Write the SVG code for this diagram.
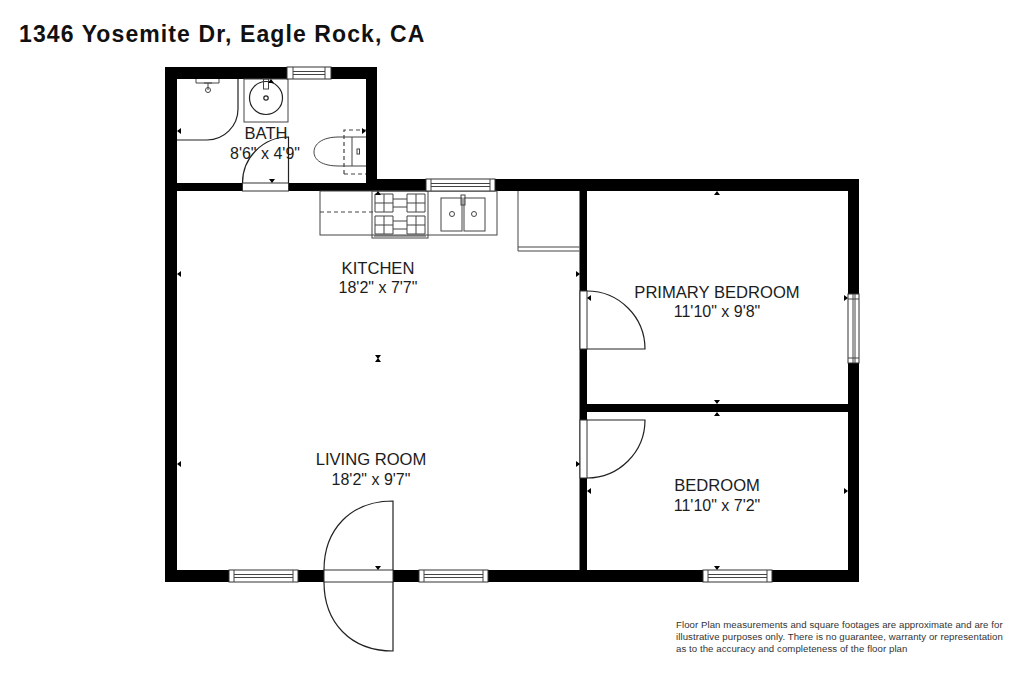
<svg xmlns="http://www.w3.org/2000/svg" width="1024" height="683" viewBox="0 0 1024 683">
<defs>
<style>
text{font-family:"Liberation Sans",Arial,sans-serif;fill:#1c1c1c;text-anchor:middle}
.lab{font-size:16.6px}
.dim{font-size:16px}
.note{font-size:9.6px;text-anchor:start;fill:#333;letter-spacing:.08px}
.l{fill:none;stroke:#222;stroke-width:1.2}
.g{fill:none;stroke:#444;stroke-width:1}
.d{fill:none;stroke:#444;stroke-width:1.2;stroke-dasharray:4 3}
.o{fill:#fff;stroke:#333;stroke-width:1}
.w{fill:#000}
</style>
<path id="t" d="M-3 0H3L0 4Z" fill="#000"/>
<g id="win"><rect x="0" y="0" width="69" height="12" class="o"/><path class="g" d="M5 0V12M64 0V12M5 4.5H64M5 7.5H64"/></g>
</defs>
<rect width="1024" height="683" fill="#fff"/>
<text id="title" x="19" y="42" style="text-anchor:start;font-weight:bold;font-size:23px;letter-spacing:1.1px;fill:#111">1346 Yosemite Dr, Eagle Rock, CA</text>
<g id="walls">
<path class="w" fill-rule="evenodd" d="M165 67H377V179H859V582H165ZM177 79V183H366V79ZM177 191V570H579.500V191ZM587 191V404H848V191ZM587 412V570H848V412Z"/>
</g>
<g id="bath">
<path class="l" d="M177 140H207A31 31 0 0 0 238 109V79"/>
<rect x="244" y="79" width="44" height="43" class="g"/>
<circle cx="266" cy="98" r="16.5" class="l"/><circle cx="266" cy="98" r="2.2" class="l" stroke-width="1.5"/>
<rect x="263.500" y="79" width="5" height="10" class="g"/>
<path class="g" d="M196 79V83H219V79M204 83H212M208 83V90"/><circle cx="208" cy="90" r="2.500" class="g"/>
<rect x="242.500" y="183" width="46" height="8" class="o"/>
<path class="l" d="M288.500 183V137A46 46 0 0 0 242.500 183"/>
<path class="g" d="M366 137H339C322 137 314 144 314 152C314 160 322 166 339 166H366M352 137V166"/>
<rect x="357" y="149" width="2.500" height="5" class="g"/>
<path class="d" d="M344 174V130H366M344 174H366"/>
<rect x="287" y="67" width="44" height="12" class="o"/><path class="g" d="M293 67V79M325 67V79M293 71.500H325M293 74.500H325"/>
<text class="lab" x="266" y="139">BATH</text>
<text class="dim" x="265" y="159">8'6" x 4'9"</text>
</g>
<g id="kitchen">
<rect x="320" y="191" width="177" height="44" class="g"/>
<path class="d" d="M320 212H373"/>
<rect x="372" y="191" width="56" height="47" fill="#fff" class="g"/>
<path class="g" d="M374 236H426"/>
<path class="g" d="M375 194H393V212H375ZM407 194H425V212H407ZM375 216H393V234H375ZM407 216H425V234H407ZM384 194V212M375 203H393M416 194V212M407 203H425M384 216V234M375 225H393M416 216V234M407 225H425M393 199H407M393 207H407M393 221H407M393 229H407"/>
<rect x="441" y="198" width="21" height="33" class="g"/><rect x="464" y="198" width="21" height="33" class="g"/>
<circle cx="452" cy="214" r="2.500" class="g"/><circle cx="474" cy="214" r="2.500" class="g"/>
<rect x="461" y="195" width="4" height="10" class="g"/>
<path class="g" d="M518 191V251H579.500M518 247H579.500"/>
<rect x="426" y="179" width="69" height="12" class="o"/><path class="g" d="M431 179V191M490 179V191M431 183.500H490M431 186.500H490"/>
<text class="lab" x="378" y="274">KITCHEN</text>
<text class="dim" x="378" y="293">18'2" x 7'7"</text>
</g>
<g id="living">
<rect x="324" y="570" width="69" height="12" class="o"/>
<path class="l" d="M393 570V501C350 501 324 530 324 570M393 582V651C350 651 324 622 324 582"/>
<use href="#win" x="229" y="570"/><use href="#win" x="419" y="570"/>
<text class="lab" x="371" y="465">LIVING ROOM</text>
<text class="dim" x="371" y="485">18'2" x 9'7"</text>
</g>
<g id="primary-bedroom">
<rect x="580" y="291" width="7" height="58" class="o"/>
<path class="l" d="M587 291A58 58 0 0 1 645 349H587"/>
<rect x="848" y="294" width="11" height="69" class="o"/><path class="g" d="M853 294V363M855 294V363M848 299H859M848 358H859"/>
<text class="lab" x="717" y="298">PRIMARY BEDROOM</text>
<text class="dim" x="717" y="317">11'10" x 9'8"</text>
</g>
<g id="bedroom">
<rect x="580" y="420" width="7" height="58" class="o"/>
<path class="l" d="M587 420H645A58 58 0 0 1 587 478"/>
<use href="#win" x="703" y="570"/>
<text class="lab" x="717" y="491">BEDROOM</text>
<text class="dim" x="717" y="511">11'10" x 7'2"</text>
</g>
<g id="marks">
<use href="#t" x="272" y="179"/><use href="#t" x="378" y="566"/><use href="#t" x="717" y="566"/>
<use href="#t" x="717" y="400"/><use href="#t" transform="translate(717 416) rotate(180)"/>
<use href="#t" transform="translate(717 195) rotate(180)"/><use href="#t" transform="translate(271 83) rotate(180)"/><use href="#t" transform="translate(378 195) rotate(180)"/>
<use href="#t" transform="translate(378 355)"/><use href="#t" transform="translate(378 362) rotate(180)"/>
<use href="#t" transform="translate(181 131) rotate(90)"/><use href="#t" transform="translate(181 274) rotate(90)"/><use href="#t" transform="translate(181 464) rotate(90)"/>
<use href="#t" transform="translate(362 131) rotate(-90)"/>
<use href="#t" transform="translate(576 274) rotate(-90)"/><use href="#t" transform="translate(576 464) rotate(-90)"/>
<use href="#t" transform="translate(591 298) rotate(90)"/><use href="#t" transform="translate(591 491) rotate(90)"/>
<use href="#t" transform="translate(844 298) rotate(-90)"/><use href="#t" transform="translate(844 491) rotate(-90)"/>
</g>
<g id="note">
<text class="note" x="676" y="628">Floor Plan measurements and square footages are approximate and are for</text>
<text class="note" x="676" y="640">illustrative purposes only. There is no guarantee, warranty or representation</text>
<text class="note" x="676" y="651.500">as to the accuracy and completeness of the floor plan</text>
</g>
</svg>
